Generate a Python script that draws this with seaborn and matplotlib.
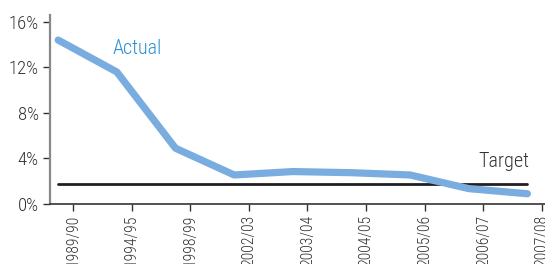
import matplotlib
matplotlib.use("Agg")
import matplotlib.pyplot as plt
import seaborn as sns
import pandas as pd
import numpy as np

years = ["1989/90", "1994/95", "1998/99", "2002/03", "2003/04",
         "2004/05", "2005/06", "2006/07", "2007/08"]
actual = [14.4, 11.6, 4.9, 2.55, 2.85, 2.75, 2.55, 1.35, 0.9]
target = [1.8] * len(years)
yticks = [0, 4, 8, 12, 16]

sns.set_style("white")
plt.rcParams["font.family"] = ["Roboto Condensed", "Liberation Sans Narrow", "Roboto", "DejaVu Sans"]
plt.rcParams["font.weight"] = "light"

df = pd.DataFrame({"pos": np.arange(len(years)), "year": years,
                   "Actual": actual, "Target": target})

fig = plt.figure(figsize=(5.45, 2.64), dpi=100)
ax = fig.add_axes([0.0917, 0.2273, 0.9083, 0.7157])

sns.lineplot(data=df, x="pos", y="Target", ax=ax, color="#231f20", lw=2)
sns.lineplot(data=df, x="pos", y="Actual", ax=ax, color="#7aaddf", lw=5.2,
             solid_capstyle="round", solid_joinstyle="round")

ax.set_xlim(-0.14, 8.3)
ax.set_ylim(0, 16.6)
ax.set_yticks(yticks)
ax.set_yticklabels([f"{v}%" for v in yticks], fontsize=13.5, color="#333333")
ax.set_xticks(df["pos"] + 0.25)
ax.set_xticklabels(years, rotation=90, fontsize=11.3, color="#333333")
ax.tick_params(axis="both", direction="out", length=5, width=1,
               color="#333333", pad=3, left=True, bottom=True)
ax.set_xlabel("")
ax.set_ylabel("")

for s in ["top", "right"]:
    ax.spines[s].set_visible(False)
ax.spines["left"].set_color("#888888")
ax.spines["left"].set_linewidth(1.6)
ax.spines["bottom"].set_color("#333333")
ax.spines["bottom"].set_linewidth(1.2)

ax.text(1.35, 13.7, "Actual", color="#2b8fd3", fontsize=14.5,
        ha="center", va="center")
ax.text(7.6, 3.7, "Target", color="#333333", fontsize=14.5,
        ha="center", va="center")

fig.savefig("out.png", dpi=100)
